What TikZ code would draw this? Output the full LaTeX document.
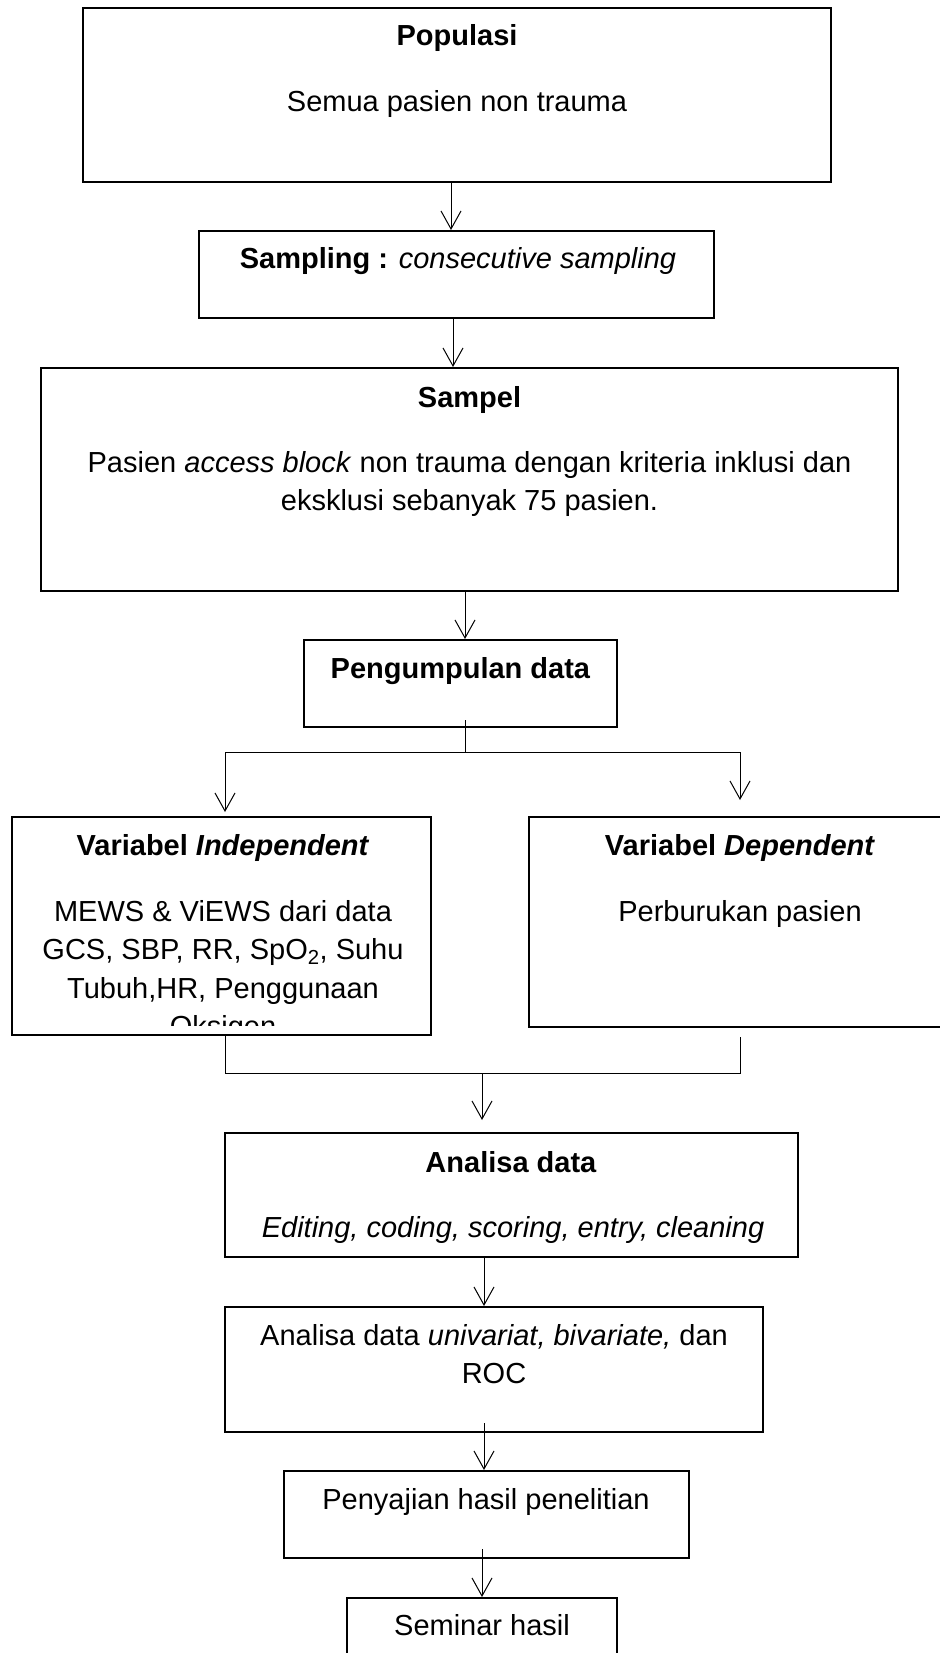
\documentclass[tikz,border=0pt]{standalone}
\usepackage{fontspec}
\setmainfont{Liberation Sans}
\usetikzlibrary{arrows.meta}
\tikzset{
  box/.style={draw, line width=2pt, rectangle, inner sep=0pt},
  txt/.style={anchor=base, inner sep=0pt, font=\fontsize{29}{35}\selectfont},
  conn/.style={line width=1pt},
  arr/.style={line width=1pt, -{Straight Barb[length=18pt,width=20pt,line width=1pt]}}
}
\begin{document}
\begin{tikzpicture}[x=1pt,y=-1pt]
\useasboundingbox (0,0) rectangle (939,1653);
% boxes
\node[box, minimum width=748pt, minimum height=174pt] (pop) at (457,95) {};
\node[box, minimum width=515pt, minimum height=87pt] (samp) at (456.5,274.5) {};
\node[box, minimum width=857pt, minimum height=223pt] (sampel) at (469.5,479.5) {};
\node[box, minimum width=313pt, minimum height=87pt] (kumpul) at (460.5,683.5) {};
\node[box, minimum width=419pt, minimum height=218pt] (indep) at (221.5,926) {};
\node[box, minimum width=422pt, minimum height=210pt] (dep) at (740,922) {};
\node[box, minimum width=573pt, minimum height=124pt] (analisa) at (511.5,1195) {};
\node[box, minimum width=538pt, minimum height=125pt] (uni) at (494,1369.5) {};
\node[box, minimum width=405pt, minimum height=87pt] (saji) at (486.5,1514.5) {};
\node[box, minimum width=270pt, minimum height=87pt] (seminar) at (482,1641.5) {};
% texts
\node[txt] (popT) at (457,46) {\textbf{Populasi}};
\node[txt] (popS) at (457,112) {Semua pasien non trauma};
\node[txt] (sampT) at (458,269) {\textbf{Sampling :} \textit{consecutive sampling}};
\node[txt] (sampelT) at (469.5,407) {\textbf{Sampel}};
\node[txt] (sampelA) at (469.5,472) {Pasien \textit{access block} non trauma dengan kriteria inklusi dan};
\node[txt] (sampelB) at (469.5,510) {eksklusi sebanyak 75 pasien.};
\node[txt] (kumpulT) at (460.5,678) {\textbf{Pengumpulan data}};
\node[txt] (indepT) at (223,855) {\textbf{Variabel \textit{Independent}}};
\node[txt] (indepA) at (223,921) {MEWS \& ViEWS dari data};
\node[txt] (indepB) at (223,959) {GCS, SBP, RR, SpO\textsubscript{2}, Suhu};
\node[txt] (indepC) at (223,998) {Tubuh,HR, Penggunaan};
\begin{scope}
\clip (13,818) rectangle (430,1025);
\node[txt] (indepD) at (223,1036) {Oksigen};
\end{scope}
\node[txt] (depT) at (740,855) {\textbf{Variabel \textit{Dependent}}};
\node[txt] (depA) at (740,921) {Perburukan pasien};
\node[txt] (analisaT) at (511,1172) {\textbf{Analisa data}};
\node[txt] (analisaA) at (513,1237) {\textit{Editing, coding, scoring, entry, cleaning}};
\node[txt] (uniA) at (494,1345) {Analisa data \textit{univariat, bivariate,} dan};
\node[txt] (uniB) at (494,1383) {ROC};
\node[txt] (sajiT) at (486,1509) {Penyajian hasil penelitian};
\node[txt] (seminarT) at (482,1635) {Seminar hasil};
% junction coordinates
\coordinate (k0) at (465,720);
\coordinate (k1) at (465,752);
\coordinate (kl) at (225,752);
\coordinate (kr) at (740,752);
\coordinate (klend) at (225,812);
\coordinate (krend) at (740,800);
\coordinate (ml) at (225,1073);
\coordinate (mr0) at (740,1037);
\coordinate (mr) at (740,1073);
\coordinate (mm) at (482,1073);
\coordinate (mmend) at (482,1120);
\coordinate (u0) at (484,1423);
\coordinate (s0) at (482,1549);
% connectors
\draw[arr] ([xshift=-6pt]pop.south) -- ([xshift=-6pt]pop.south |- samp.north);
\draw[arr] ([xshift=-3.5pt]samp.south) -- ([xshift=-3.5pt]samp.south |- sampel.north);
\draw[arr] ([xshift=-4.5pt]sampel.south) -- ([xshift=-4.5pt]sampel.south |- kumpul.north);
\draw[conn] (k0) -- (k1);
\draw[conn] (kl) -- (kr);
\draw[arr] (kl) -- (klend);
\draw[arr] (kr) -- (krend);
\draw[conn] (indep.south -| ml) -- (ml) -- (mr) -- (mr0);
\draw[arr] (mm) -- (mmend);
\draw[arr] (analisa.south -| u0) -- (uni.north -| u0);
\draw[arr] (u0) -- (saji.north -| u0);
\draw[arr] (s0) -- (seminar.north -| s0);
\end{tikzpicture}
\end{document}
